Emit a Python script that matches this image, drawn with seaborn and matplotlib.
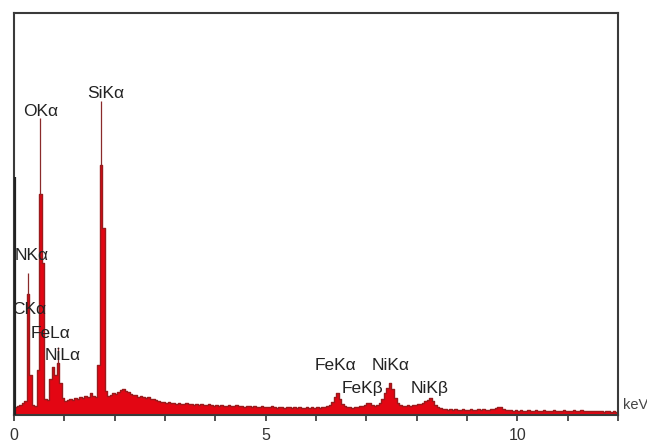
import numpy as np
import pandas as pd
import matplotlib
matplotlib.use("Agg")
import matplotlib.pyplot as plt
import seaborn as sns

# ---- data ----
bin_width = 0.05  # keV
counts = [
    8, 9, 10, 12, 14, 121, 40, 10, 9, 45,
    221, 152, 16, 15, 36, 48, 40, 52, 32, 17,
    14, 15, 16, 15, 17, 16, 18, 17, 19, 18,
    22, 19, 18, 50, 250, 187, 24, 19, 20, 22,
    21, 23, 25, 26, 24, 23, 21, 20, 20, 18,
    19, 18, 17, 18, 16, 16, 15, 14, 13, 13,
    12, 13, 12, 12, 11, 12, 11, 11, 12, 11,
    11, 10, 11, 10, 11, 10, 10, 11, 10, 9,
    10, 9, 10, 9, 9, 10, 9, 9, 10, 9,
    9, 8, 9, 9, 8, 9, 8, 8, 9, 8,
    8, 8, 9, 8, 7, 8, 8, 7, 8, 8,
    7, 8, 7, 8, 7, 7, 8, 7, 8, 7,
    8, 7, 8, 8, 9, 10, 13, 18, 22, 16,
    11, 9, 8, 8, 7, 8, 8, 9, 9, 10,
    12, 12, 10, 9, 10, 12, 16, 22, 27, 32,
    26, 17, 12, 10, 9, 9, 10, 9, 10, 10,
    11, 11, 12, 14, 15, 17, 14, 10, 8, 7,
    6, 6, 5, 6, 5, 6, 5, 5, 6, 5,
    5, 6, 5, 5, 6, 5, 6, 5, 5, 6,
    6, 7, 8, 8, 6, 5, 5, 5, 4, 5,
    4, 5, 4, 4, 5, 4, 4, 5, 4, 4,
    5, 4, 4, 4, 5, 4, 4, 4, 5, 4,
    4, 4, 5, 4, 4, 5, 4, 4, 4, 4,
    4, 4, 4, 4, 3, 4, 4, 3, 4, 3,
]
zero_peak_energy = 0.02
zero_peak_height = 238

marker_energy = [0.275, 0.525, 0.875, 1.725]
marker_top = [142, 297, 68, 314]

peak_labels = ["SiKα", "OKα", "NKα", "CKα", "FeLα", "NiLα",
               "FeKα", "NiKα", "FeKβ", "NiKβ"]
label_energy = [1.83, 0.54, 0.36, 0.30, 0.73, 0.97, 6.39, 7.48, 6.93, 8.26]
label_height = [322, 303, 160, 105, 81, 59, 50, 50, 27, 27]

tick_values = list(range(0, 13))
tick_labels = ["0", "", "", "", "", "5", "", "", "", "", "10", "", ""]

# ---- plot ----
sns.set_style("white")
plt.rcParams["font.family"] = ["Liberation Sans", "DejaVu Sans"]

n = len(counts)
centers = (np.arange(n) + 0.5) * bin_width
df = pd.DataFrame({"energy": centers, "counts": counts})

fig = plt.figure(figsize=(6.47, 4.42), dpi=100)
ax = fig.add_axes([14 / 647, 27 / 442, 604 / 647, 402 / 442])

sns.histplot(data=df, x="energy", weights="counts", binwidth=bin_width,
             binrange=(0, n * bin_width),
             element="step", fill=True, color="#e30613", alpha=1.0,
             edgecolor="#9a1a1c", linewidth=1.0, ax=ax, legend=False)

# marker lines above peaks
ymax_map = dict(zip(np.round(centers, 3), counts))
for e, top in zip(marker_energy, marker_top):
    base = ymax_map[round(e, 3)]
    ax.vlines(e, base, top, color="#8a2a2a", lw=0.9, zorder=3)

ax.vlines(zero_peak_energy, 0, zero_peak_height, color="#222222", lw=1.6, zorder=3)

for lab, e, h in zip(peak_labels, label_energy, label_height):
    ax.text(e, h, lab, ha="center", va="center", fontsize=12.5, color="#222222",
            zorder=4)

ax.set_xlim(0, 12)
ax.set_ylim(0, 402)
ax.set_xticks(tick_values)
ax.set_xticklabels(tick_labels)
ax.set_yticks([])
ax.set_xlabel("")
ax.set_ylabel("")
ax.tick_params(axis="x", direction="out", length=4, width=1.2, color="#333333",
               labelsize=11.5, labelcolor="#333333", pad=5, bottom=True)
for s in ax.spines.values():
    s.set_color("#3a3a3a")
    s.set_linewidth(1.5)
    s.set_visible(True)

fig.text(623 / 647, 1 - 405 / 442, "keV", ha="left", va="center",
         fontsize=10.5, color="#444444")

fig.savefig("out.png", dpi=100)
